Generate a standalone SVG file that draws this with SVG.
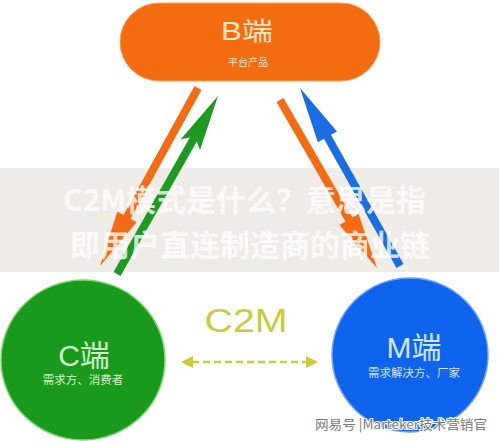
<svg xmlns="http://www.w3.org/2000/svg" width="499" height="441" viewBox="0 0 499 441">
<style>
.cjk{font-family:"Noto Sans CJK SC","Noto Sans",sans-serif}
.lat{font-family:"Liberation Sans","Noto Sans CJK SC",sans-serif}
.band{font-family:"Noto Sans CJK SC",sans-serif;font-weight:700;font-size:30px;fill:#ffffff;fill-opacity:0.8}
</style>
<rect width="499" height="441" fill="#ffffff"/>
<rect x="0" y="168" width="499" height="104" fill="#efece8"/>
<g id="connectors">
  <polygon id="arrow-b-c" fill="#f36c14" points="201.5,89.9 130.5,218.8 136.6,222.2 100,266 117.4,211.6 123.5,215.0 194.5,86.1"/>
  <polygon id="arrow-c-b" fill="#1c9a22" points="120.5,276.0 196.8,141.5 200.0,150.1 218,96 180.8,139.3 189.8,137.5 113.5,272.0"/>
  <polygon id="arrow-b-m" fill="#f36c14" points="283.5,98 352.5,217.5 358.5,214 377,268 339.5,225 345.5,221.5 276.5,102"/>
  <polygon id="arrow-m-b" fill="#1a6ee4" points="403.5,264.0 330.9,134.8 337.0,131.4 300,88 317.8,142.2 323.9,138.8 396.5,268.0"/>
  <g id="arrow-c-m" fill="#c9cc32">
    <line x1="192" y1="362" x2="306" y2="362" stroke="#c9cc32" stroke-width="2.5" stroke-dasharray="7,4"/>
    <polygon points="181,362 193,356 193,368"/>
    <polygon points="318,362 306,356 306,368"/>
  </g>
</g>
<g id="overlay-text">
  <text class="band" x="63" y="211">C2M模式是什么？意思是指</text>
  <text class="band" x="70" y="256">即用户直连制造商的商业链</text>
</g>
<g id="node-b">
  <rect x="120" y="3" width="260" height="78" rx="39" fill="#f36c10" stroke="#f8a060" stroke-width="1"/>
  <text class="lat" x="221" y="40" font-size="25" fill="#fde6c4" textLength="52" lengthAdjust="spacingAndGlyphs">B<tspan class="cjk">端</tspan></text>
  <text class="cjk" x="248" y="66" font-size="10" fill="#fde6c4" text-anchor="middle">平台产品</text>
</g>
<g id="node-c">
  <ellipse cx="83" cy="360" rx="82" ry="80" fill="#1a9a1c" stroke="#7ed870" stroke-width="1.5"/>
  <text class="lat" x="84" y="366" font-size="30" fill="#d2f2c8" text-anchor="middle">C<tspan class="cjk">端</tspan></text>
  <text class="cjk" x="83" y="384" font-size="11.5" fill="#d2f2c8" text-anchor="middle">需求方、消费者</text>
</g>
<g id="node-m">
  <ellipse cx="410" cy="355" rx="78" ry="77" fill="#0f64ee" stroke="#6fa4f4" stroke-width="1.5"/>
  <text class="lat" x="414" y="358" font-size="30" fill="#d4e4fa" text-anchor="middle">M<tspan class="cjk">端</tspan></text>
  <text class="cjk" x="414" y="377" font-size="11.5" fill="#d4e4fa" text-anchor="middle">需求解决方、厂家</text>
</g>
<g id="label-c2m">
  <text class="lat" x="246" y="332" font-size="34" fill="#c8cc3a" text-anchor="middle" textLength="83" lengthAdjust="spacingAndGlyphs">C2M</text>
</g>
<g id="watermark">
  <text class="cjk" x="315" y="429" font-size="13" fill="#7a7a7a" stroke="#ffffff" stroke-width="2" paint-order="stroke" textLength="172" lengthAdjust="spacingAndGlyphs">网易号 |Marteker技术营销官</text>
</g>
</svg>
